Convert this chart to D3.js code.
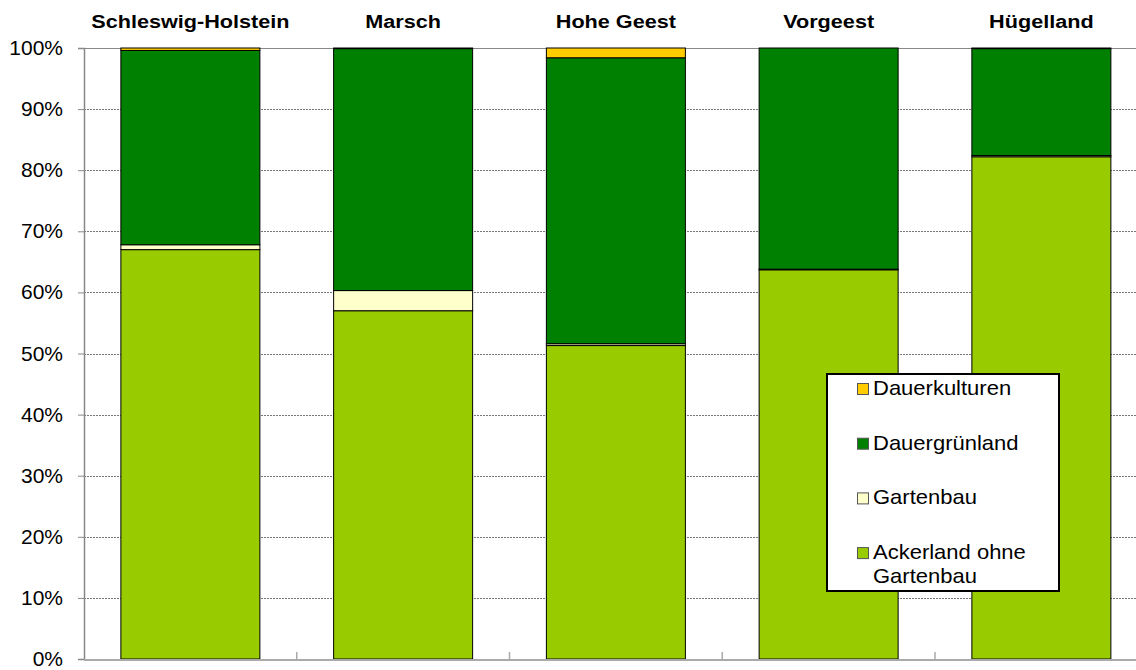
<!DOCTYPE html>
<html>
<head>
<meta charset="utf-8">
<script src="https://cdn.jsdelivr.net/npm/d3@7"></script>
<style>
  html, body { margin: 0; padding: 0; background: #ffffff; }
  svg { display: block; font-family: "Liberation Sans", Arial, sans-serif; }
</style>
</head>
<body>
<svg id="chart" width="1136" height="670"></svg>
<script>
// DATA (shares of agricultural area, %)
const regions = ["Schleswig-Holstein", "Marsch", "Hohe Geest", "Vorgeest", "Hügelland"];
const ackerland = [67.0, 57.0, 51.3, 63.7, 82.2];
const gartenbau = [0.8, 3.3, 0.3, 0.1, 0.2];
const dauergruenland = [31.8, 39.6, 46.8, 36.2, 17.5];
const dauerkulturen = [0.4, 0.1, 1.6, 0.0, 0.1];
const yTicks = [0, 10, 20, 30, 40, 50, 60, 70, 80, 90, 100];

const seriesKeys = ["Ackerland ohne Gartenbau", "Gartenbau", "Dauergrünland", "Dauerkulturen"];
const seriesValues = [ackerland, gartenbau, dauergruenland, dauerkulturen];
const seriesColors = ["#99CC00", "#FFFFCC", "#008000", "#FFCC00"];
// legend order (top to bottom)
const legendKeys = ["Dauerkulturen", "Dauergrünland", "Gartenbau", "Ackerland ohne Gartenbau"];

// build table for d3.stack
const table = regions.map(function(r, i) {
    let row = {region: r};
    seriesKeys.forEach(function(k, j) { row[k] = seriesValues[j][i]; });
    return row;
});

const svg = d3.select("#chart");

// SCALES
const left = 84;
const step = 212.75;
const pad = 1 - 139 / step;
const x = d3.scaleBand()
    .domain(regions)
    .range([left, left + step * regions.length])
    .paddingInner(pad)
    .paddingOuter(pad / 2);

const y = d3.scaleLinear().domain([0, 100]).range([659, 48]);
const color = d3.scaleOrdinal().domain(seriesKeys).range(seriesColors);

// helper: text stretched a bit horizontally like the original
function stretchedText(parent, tx, ty, str, size, weight, anchor, sx) {
    parent.append("g")
        .attr("transform", `translate(${tx},${ty}) scale(${sx},1)`)
        .append("text")
        .attr("font-size", size)
        .attr("font-weight", weight)
        .attr("text-anchor", anchor)
        .attr("fill", "#000")
        .text(str);
}

// GRID LINES
svg.append("g")
    .selectAll("line")
    .data(yTicks.filter(function(t) { return t > 0 && t < 100; }))
    .join("line")
    .attr("x1", left).attr("x2", 1136)
    .attr("y1", function(d) { return Math.round(y(d)) + 0.5; })
    .attr("y2", function(d) { return Math.round(y(d)) + 0.5; })
    .attr("stroke", "#777")
    .attr("stroke-width", 1)
    .attr("stroke-dasharray", "2,1");

// top border
svg.append("line")
    .attr("x1", left).attr("x2", 1136)
    .attr("y1", y(100) + 0.5).attr("y2", y(100) + 0.5)
    .attr("stroke", "#888").attr("stroke-width", 1);

// STACKED BARS
const stacked = d3.stack().keys(seriesKeys)(table);

svg.append("g")
    .selectAll("g")
    .data(stacked)
    .join("g")
    .attr("fill", function(d) { return color(d.key); })
    .selectAll("rect")
    .data(function(d) { return d; })
    .join("rect")
    .attr("x", function(d) { return x(d.data.region); })
    .attr("y", function(d) { return y(d[1]); })
    .attr("width", x.bandwidth())
    .attr("height", function(d) { return Math.max(0, y(d[0]) - y(d[1])); })
    .attr("stroke", "#000")
    .attr("stroke-width", 1);

// Y AXIS
const yAxis = d3.axisLeft(y)
    .tickValues(yTicks)
    .tickSize(6)
    .tickFormat(function() { return ""; });
const yAxisG = svg.append("g")
    .attr("transform", `translate(${left},0)`)
    .call(yAxis);
yAxisG.select(".domain").attr("stroke", "#888").attr("stroke-width", 1.5);
yAxisG.selectAll(".tick line").attr("stroke", "#888");

yTicks.forEach(function(t) {
    stretchedText(svg, 63, y(t) + 7, t + "%", 20, "normal", "end", 1.05);
});

// X AXIS (category boundaries)
const xAxisG = svg.append("g");
xAxisG.append("line")
    .attr("x1", left).attr("x2", 1136)
    .attr("y1", y(0) + 1).attr("y2", y(0) + 1)
    .attr("stroke", "#aaa").attr("stroke-width", 2);
xAxisG.selectAll("line.tick")
    .data(regions.slice(1))
    .join("line")
    .attr("class", "tick")
    .attr("x1", function(d) { return x(d) - x.step() * pad / 2; })
    .attr("x2", function(d) { return x(d) - x.step() * pad / 2; })
    .attr("y1", y(0)).attr("y2", y(0) - 7)
    .attr("stroke", "#aaa").attr("stroke-width", 1.5);

// CATEGORY TITLES
regions.forEach(function(r) {
    stretchedText(svg, x(r) + x.bandwidth() / 2, 28, r, 18.5, "bold", "middle", 1.17);
});

// LEGEND
const legend = svg.append("g");
legend.append("rect")
    .attr("x", 827).attr("y", 374)
    .attr("width", 232).attr("height", 217)
    .attr("fill", "#fff")
    .attr("stroke", "#000")
    .attr("stroke-width", 2);

legendKeys.forEach(function(k, i) {
    let top = 383 + i * 54.7;
    legend.append("rect")
        .attr("x", 857.5).attr("y", top + 0.5)
        .attr("width", 11).attr("height", 11)
        .attr("fill", color(k))
        .attr("stroke", "#555")
        .attr("stroke-width", 1);
    if (k === "Ackerland ohne Gartenbau") {
        stretchedText(legend, 873, top + 12, "Ackerland ohne", 20, "normal", "start", 1.1);
        stretchedText(legend, 873, top + 36, "Gartenbau", 20, "normal", "start", 1.1);
    } else {
        stretchedText(legend, 873, top + 12, k, 20, "normal", "start", 1.1);
    }
});
</script>
</body>
</html>
